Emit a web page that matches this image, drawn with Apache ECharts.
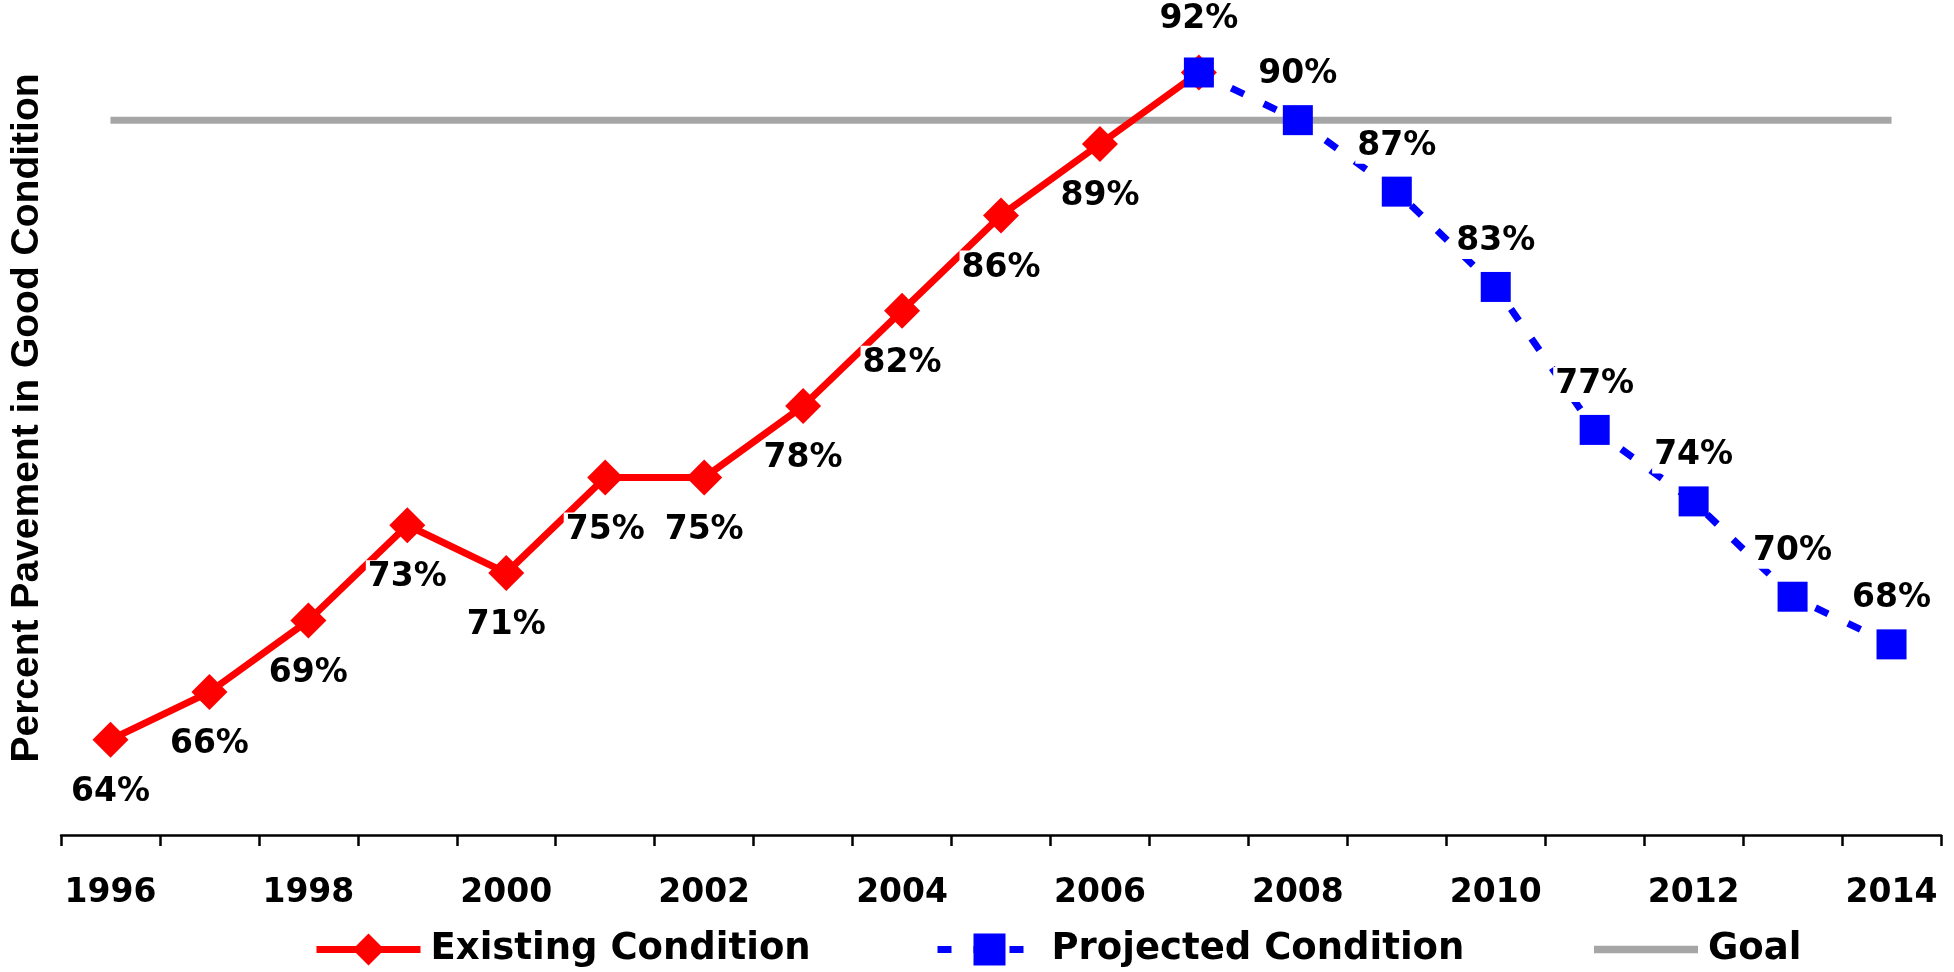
<!DOCTYPE html>
<html>
<head>
<meta charset="utf-8">
<script src="https://cdn.jsdelivr.net/npm/echarts@6/dist/echarts.min.js"></script>
<style>
html,body{margin:0;padding:0;background:#fff;}
#chart{width:1954px;height:972px;}
</style>
</head>
<body>
<div id="chart"></div>
<script>
var years = ['1996','1997','1998','1999','2000','2001','2002','2003','2004','2005','2006','2007','2008','2009','2010','2011','2012','2013','2014'];
var existing = [64, 66, 69, 73, 71, 75, 75, 78, 82, 86, 89, 92, null, null, null, null, null, null, null];
var projected = [null, null, null, null, null, null, null, null, null, null, null, 92, 90, 87, 83, 77, 74, 70, 68];
var goal = [90, 90, 90, 90, 90, 90, 90, 90, 90, 90, 90, 90, 90, 90, 90, 90, 90, 90, 90];

var FONT = 'DejaVu Sans';
var chart = echarts.init(document.getElementById('chart'));

var existingData = existing.map(function (v, i) {
  if (v !== null && i === 11) return { value: v, label: { show: false } };
  return v;
});
var projectedData = projected.map(function (v, i) {
  if (v !== null && i === 11) return { value: v, label: { distance: 21 } };
  return v;
});

var labelBase = {
  show: true,
  formatter: function (p) { return p.value + '%'; },
  fontFamily: FONT,
  fontWeight: 'bold',
  fontSize: 33,
  color: '#000',
  backgroundColor: '#fff',
  padding: [1, 2, 1, 2]
};

var legendText = { fontFamily: FONT, fontWeight: 'bold', fontSize: 37, color: '#000', padding: [0, 0, 0, 5] };
function mkLegend(name, left, extra) {
  var item = Object.assign({ name: name }, extra || {});
  return {
    left: left,
    top: 926,
    itemWidth: 104,
    itemHeight: 40,
    textStyle: legendText,
    lineStyle: { width: 7 },
    data: [item]
  };
}

chart.setOption({
  animation: false,
  backgroundColor: '#fff',
  grid: { left: 59, right: 13, top: 1, bottom: 137 },
  xAxis: {
    type: 'category',
    data: years,
    boundaryGap: true,
    axisLine: { lineStyle: { color: '#000', width: 2.5 } },
    axisTick: { show: true, interval: 0, length: 11, lineStyle: { color: '#000', width: 2.5 } },
    axisLabel: {
      interval: 1,
      margin: 42,
      fontFamily: FONT,
      fontWeight: 'bold',
      fontSize: 33,
      color: '#000'
    }
  },
  yAxis: {
    type: 'value',
    min: 60,
    max: 95,
    axisLine: { show: false },
    axisTick: { show: false },
    axisLabel: { show: false },
    splitLine: { show: false },
    name: 'Percent Pavement in Good Condition',
    nameLocation: 'middle',
    nameGap: 14,
    nameTextStyle: {
      fontFamily: 'Liberation Sans',
      fontWeight: 'bold',
      fontSize: 39,
      color: '#000'
    }
  },
  legend: [
    mkLegend('Existing Condition', 308),
    mkLegend('Projected Condition', 929),
    mkLegend('Goal', 1589, { icon: 'path://M0,0 L100,0 L100,7 L0,7 Z' })
  ],
  series: [
    {
      name: 'Goal',
      type: 'line',
      data: goal,
      symbol: 'none',
      z: 1,
      lineStyle: { color: '#a6a6a6', width: 7 },
      itemStyle: { color: '#a6a6a6' },
      silent: true
    },
    {
      name: 'Existing Condition',
      type: 'line',
      data: existingData,
      symbol: 'diamond',
      symbolSize: 36,
      z: 3,
      lineStyle: { color: '#ff0000', width: 7 },
      itemStyle: { color: '#ff0000' },
      label: Object.assign({}, labelBase, { position: 'bottom', distance: 17 })
    },
    {
      name: 'Projected Condition',
      type: 'line',
      data: projectedData,
      symbol: 'rect',
      symbolSize: 30,
      z: 4,
      lineStyle: { color: '#0000ff', width: 7, type: [14, 22] },
      itemStyle: { color: '#0000ff' },
      label: Object.assign({}, labelBase, { position: 'top', distance: 13 })
    }
  ]
});
</script>
</body>
</html>
